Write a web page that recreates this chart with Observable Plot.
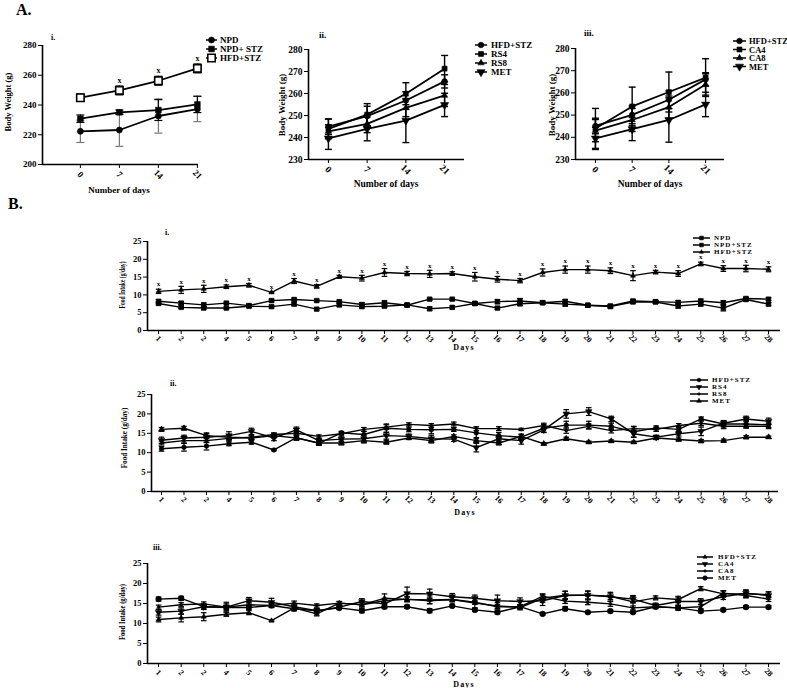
<!DOCTYPE html>
<html><head><meta charset="utf-8">
<script src="https://cdn.jsdelivr.net/npm/d3@7"></script>
<script src="https://cdn.jsdelivr.net/npm/@observablehq/plot@0.6"></script>
<style>
html,body{margin:0;padding:0;background:#fff;}
#fig{position:relative;width:787px;height:688px;overflow:hidden;background:#fff;}
</style></head><body><div id="fig"></div>
<script>
// ---------- DATA ----------
const weekDays = [0, 7, 14, 21];
const weekLabels = ["0", "7", "14", "21"];
// A.i body weight
const npdBW = [222.3, 223.2, 232.6, 237.3];
const npdBWErr = [7.5, 11, 11.5, 8.5];
const npdStzBW = [230.8, 235.1, 236.6, 240.4];
const npdStzBWErr = [2.5, 1.5, 7, 5.5];
const hfdBW = [244.9, 249.8, 256.3, 264.6];
const hfdBWErr = [2.5, 3, 3, 3];
const sigDaysA = [7, 14, 21];
// A.ii
const hfdBW2 = [244.9, 249.7, 256.8, 265.5];
const hfdBW2Err = [3.5, 4.5, 4, 3];
const rs4BW = [243.9, 250.4, 259.9, 271.3];
const rs4BWErr = [4.5, 5, 5, 6];
const rs8BW = [242.8, 246.2, 253.5, 259.1];
const rs8BWErr = [3, 4, 4, 5];
const metBW2 = [239.6, 243.9, 247.7, 254.8];
const metBW2Err = [5, 5.4, 10, 5.3];
// A.iii
const hfdBW3 = [245.1, 250.1, 256.9, 266.1];
const hfdBW3Err = [3.5, 4, 4, 3];
const ca4BW = [244.0, 253.9, 260.4, 266.9];
const ca4BWErr = [9, 8.7, 9, 8.5];
const ca8BW = [243.0, 247.8, 253.6, 263.8];
const ca8BWErr = [5, 5.2, 5, 4.8];
const metBW3 = [239.5, 243.7, 247.8, 254.8];
const metBW3Err = [5, 5.2, 10, 5.5];

// B food intake
const foodDays = [1,2,3,4,5,6,7,8,9,10,11,12,13,14,15,16,17,18,19,20,21,22,23,24,25,26,27,28];
const dayLabels = ["1","2","2","4","5","6","7","8","9","10","11","12","13","14","15","16","17","18","19","20","21","22","23","24","25","26","27","28"];
// B.i
const npdFood = [7.6, 6.5, 6.3, 6.3, 6.8, 6.7, 7.4, 6.0, 7.2, 6.7, 6.8, 7.2, 6.1, 6.5, 7.6, 6.3, 7.5, 7.8, 7.4, 7.1, 6.7, 8.0, 8.0, 6.9, 7.4, 6.3, 8.7, 7.4];
const npdFoodErr = [0.4, 0.3, 0.4, 0.3, 0.3, 0.4, 0.4, 0.3, 0.5, 0.4, 0.3, 0.4, 0.5, 0.4, 0.3, 0.4, 0.5, 0.4, 0.5, 0.3, 0.4, 0.3, 0.4, 0.6, 0.5, 0.8, 0.4, 0.4];
const npdStzFood = [8.2, 7.7, 7.2, 7.7, 7.0, 8.4, 8.7, 8.4, 8.1, 7.3, 7.8, 7.1, 8.8, 8.8, 7.6, 8.1, 8.3, 7.8, 8.2, 7.1, 6.9, 8.3, 8.1, 7.9, 8.3, 7.8, 9.0, 8.8];
const npdStzFoodErr = [0.5, 0.4, 0.5, 0.3, 0.4, 0.4, 0.4, 0.3, 0.4, 0.5, 0.5, 0.4, 0.3, 0.3, 0.4, 0.6, 0.7, 0.4, 0.5, 0.4, 0.4, 0.4, 0.4, 0.5, 0.5, 0.6, 0.3, 0.4];
const hfdFood = [11.0, 11.4, 11.7, 12.3, 12.7, 10.7, 13.9, 12.4, 15.1, 14.7, 16.3, 16.0, 15.9, 16.0, 15.1, 14.4, 14.0, 16.3, 17.1, 17.1, 16.8, 15.4, 16.4, 16.0, 18.7, 17.4, 17.4, 17.2];
const hfdFoodErr = [0.6, 1.0, 1.0, 0.5, 0.5, 0.2, 0.7, 0.5, 0.4, 0.8, 1.1, 0.6, 1.0, 0.5, 1.2, 0.8, 0.6, 1.0, 1.0, 1.0, 0.8, 1.4, 0.5, 0.8, 0.5, 0.8, 0.9, 0.7];
// B.ii
const rs4Food = [13.2, 13.8, 14.0, 14.4, 15.5, 13.8, 15.9, 13.1, 13.5, 13.6, 14.4, 14.2, 13.6, 13.5, 11.3, 13.6, 13.1, 15.9, 20.0, 20.6, 18.7, 14.9, 14.0, 14.9, 15.5, 17.6, 18.7, 18.1];
const rs4FoodErr = [0.8, 0.7, 0.9, 1.0, 0.8, 0.7, 0.7, 0.5, 0.6, 0.8, 0.9, 0.6, 0.9, 0.6, 1.1, 0.6, 0.9, 0.7, 1.1, 1.0, 0.7, 0.9, 0.5, 0.6, 1.1, 0.7, 0.7, 0.8];
const rs8Food = [12.5, 13.1, 13.1, 13.7, 14.0, 14.7, 15.0, 14.2, 14.9, 16.0, 16.6, 17.3, 17.0, 17.4, 16.2, 16.2, 16.0, 17.0, 15.7, 16.8, 15.7, 16.2, 16.0, 17.0, 17.6, 16.8, 16.8, 16.8];
const rs8FoodErr = [0.5, 0.6, 0.5, 0.6, 0.5, 0.4, 0.5, 0.4, 0.4, 0.5, 0.6, 0.4, 0.5, 0.5, 0.5, 0.5, 0.3, 0.6, 0.7, 0.6, 0.6, 0.5, 0.5, 0.5, 0.6, 0.6, 0.5, 0.6];
const metFood2 = [16.0, 16.3, 14.4, 14.0, 13.8, 14.4, 13.8, 12.5, 12.5, 13.1, 12.7, 13.8, 13.1, 14.2, 13.1, 12.5, 14.2, 12.3, 13.6, 12.7, 13.0, 12.7, 13.8, 13.4, 13.0, 13.1, 14.0, 14.0];
const metFood2Err = [0.5, 0.5, 0.7, 0.6, 0.5, 0.6, 0.5, 0.6, 0.5, 0.6, 0.5, 0.4, 0.6, 0.4, 0.5, 0.5, 0.6, 0.3, 0.4, 0.3, 0.3, 0.3, 0.4, 0.4, 0.4, 0.4, 0.4, 0.3];
// B.iii
const metFood3 = [16.1, 16.3, 14.2, 14.0, 14.0, 14.5, 13.7, 13.2, 13.9, 13.2, 14.2, 14.2, 13.2, 14.4, 13.4, 12.8, 14.2, 12.4, 13.7, 12.8, 13.1, 12.8, 14.2, 13.9, 13.1, 13.4, 14.1, 14.1];
const metFood3Err = [0.5, 0.5, 0.6, 0.5, 0.5, 0.5, 0.5, 0.5, 0.4, 0.5, 0.5, 0.4, 0.5, 0.4, 0.4, 0.4, 0.5, 0.3, 0.5, 0.3, 0.4, 0.3, 0.4, 0.4, 0.4, 0.4, 0.4, 0.4];
const ca4Food = [12.8, 13.1, 14.2, 14.1, 15.7, 15.3, 14.2, 13.2, 14.1, 15.5, 14.9, 17.5, 17.4, 16.7, 16.3, 15.7, 15.5, 15.7, 17.0, 17.1, 16.7, 16.1, 14.5, 15.5, 15.5, 16.7, 17.6, 17.0];
const ca4FoodErr = [0.7, 0.8, 0.7, 0.8, 0.8, 1.0, 0.8, 0.6, 0.6, 0.7, 1.0, 1.6, 1.2, 0.8, 0.8, 1.4, 0.9, 1.2, 1.0, 1.0, 1.1, 0.9, 0.6, 0.9, 0.7, 0.7, 0.8, 0.9];
const ca8Food = [14.1, 14.7, 14.9, 14.1, 14.7, 14.5, 15.1, 14.5, 15.1, 14.7, 15.7, 16.1, 15.7, 16.0, 15.3, 14.2, 14.2, 16.8, 15.6, 15.3, 14.9, 13.9, 14.2, 13.9, 14.2, 17.6, 17.0, 16.1];
const ca8FoodErr = [0.5, 0.5, 0.5, 1.2, 0.6, 0.5, 0.5, 0.4, 0.4, 0.5, 0.6, 0.6, 0.7, 0.6, 0.5, 0.5, 0.5, 0.6, 0.6, 0.6, 0.6, 0.5, 0.5, 0.6, 0.5, 0.5, 0.6, 0.6];

// ---------- HELPERS ----------
const SERIF = "'Liberation Serif','Times New Roman',serif";
const fig = document.getElementById("fig");
const triDown = {draw(ctx, size){ const a = Math.sqrt(4*size/Math.sqrt(3)), h = Math.sqrt(3)/2*a;
  ctx.moveTo(0, 2*h/3); ctx.lineTo(a/2, -h/3); ctx.lineTo(-a/2, -h/3); ctx.closePath(); }};
const SYM = {circle: d3.symbolCircle, square: d3.symbolSquare, triangle: d3.symbolTriangle2, triDown: triDown, dot: d3.symbolCircle};
const cap = hw => ({draw(ctx){ ctx.moveTo(-hw, 0); ctx.lineTo(hw, 0); }});

function makePanel(cfg){
  const {L,T,R,B,xDomain,yDomain,xTicks,xLabels,yTicks,series,sig,capHW,ml,mr,mt,mb,lw,xdy,xfs,yfs,ew} = cfg;
  const marks = [];
  const all = [];
  for (const s of series){
    s.rows = s.x.map((x,i)=>({s:s.name, x, y:s.y[i], e:s.err[i]}));
    all.push(...s.rows);
  }
  const errStroke = d => d.s === cfg.grayErr ? "#777" : "black";
  marks.push(Plot.ruleX(all, {x:"x", y1:d=>d.y-d.e, y2:d=>d.y+d.e, stroke:errStroke, strokeWidth:ew}));
  marks.push(Plot.dot(all, {x:"x", y:d=>d.y+d.e, symbol:cap(capHW), stroke:errStroke, strokeWidth:ew, fill:"none", r:2}));
  marks.push(Plot.dot(all, {x:"x", y:d=>d.y-d.e, symbol:cap(capHW), stroke:errStroke, strokeWidth:ew, fill:"none", r:2}));
  marks.push(Plot.line(all, {x:"x", y:"y", z:"s", stroke:"black", strokeWidth:lw}));
  for (const s of series){
    marks.push(Plot.dot(s.rows, {x:"x", y:"y", symbol:SYM[s.symbol], r:s.r, fill:s.fill||"black", stroke:"black", strokeWidth:s.sw||0.6}));
  }
  if (sig){
    const rows = sig.series.rows.filter(d => sig.days.includes(d.x));
    marks.push(Plot.text(rows, {x:"x", y:d=>d.y+d.e, dy:sig.dy, text:()=>"x", fontSize:sig.fs, fontWeight:"bold"}));
  }
  marks.push(Plot.axisY({ticks:yTicks, tickSize:4, tickPadding:2, label:null, fontSize:yfs}));
  marks.push(Plot.axisX({ticks:xTicks, tickSize:4, tickFormat:()=>"", label:null}));
  marks.push(Plot.text(xTicks, {x:d=>d, y:()=>yDomain[0], text:(d,i)=>xLabels[i], rotate:45, dy:xdy, textAnchor:"middle", fontSize:xfs, fontWeight:"bold"}));
  marks.push(Plot.ruleY([yDomain[0]], {strokeWidth:1.6}));
  marks.push(Plot.ruleX([xDomain[0]], {strokeWidth:1.6}));
  const p = Plot.plot({
    width: R-L+ml+mr, height: B-T+mt+mb,
    marginLeft: ml, marginRight: mr, marginTop: mt, marginBottom: mb,
    x: {domain: xDomain}, y: {domain: yDomain},
    style: {fontFamily: SERIF, fontWeight: "bold", fontSize: "9px", background: "transparent", color: "black", overflow: "visible"},
    marks
  });
  p.style.position = "absolute"; p.style.left = (L-ml) + "px"; p.style.top = (T-mt) + "px";
  p.style.maxWidth = "none";
  fig.appendChild(p);
}

// ---------- PANELS ----------
const A1 = [
  {name:"NPD", x:weekDays, y:npdBW, err:npdBWErr, symbol:"circle", r:3},
  {name:"NPD+ STZ", x:weekDays, y:npdStzBW, err:npdStzBWErr, symbol:"square", r:3.2},
  {name:"HFD+STZ", x:weekDays, y:hfdBW, err:hfdBWErr, symbol:"square", r:4.2, fill:"white", sw:1.6}
];
makePanel({L:42,T:45,R:198,B:164, xDomain:[-6.8,21.2], yDomain:[200,280], xTicks:weekDays, xLabels:weekLabels,
  yTicks:[200,220,240,260,280], series:A1, sig:{series:A1[2], days:sigDaysA, dy:-6, fs:8}, grayErr:"NPD",
  capHW:4, ml:32, mr:8, mt:8, mb:24, lw:1.8, xdy:10, xfs:9, yfs:9, ew:1.2});

const A2 = [
  {name:"HFD+STZ", x:weekDays, y:hfdBW2, err:hfdBW2Err, symbol:"circle", r:2.8},
  {name:"RS4", x:weekDays, y:rs4BW, err:rs4BWErr, symbol:"square", r:2.8},
  {name:"RS8", x:weekDays, y:rs8BW, err:rs8BWErr, symbol:"triangle", r:3},
  {name:"MET", x:weekDays, y:metBW2, err:metBW2Err, symbol:"triDown", r:3}
];
makePanel({L:308,T:49,R:464,B:159, xDomain:[-3.6,24.6], yDomain:[230,280], xTicks:weekDays, xLabels:weekLabels,
  yTicks:[230,240,250,260,270,280], series:A2, capHW:3.5, ml:32, mr:8, mt:8, mb:24, lw:1.8, xdy:10, xfs:9.5, yfs:9.5, ew:1.4});

const A3 = [
  {name:"HFD+STZ", x:weekDays, y:hfdBW3, err:hfdBW3Err, symbol:"circle", r:2.8},
  {name:"CA4", x:weekDays, y:ca4BW, err:ca4BWErr, symbol:"square", r:2.8},
  {name:"CA8", x:weekDays, y:ca8BW, err:ca8BWErr, symbol:"triangle", r:3},
  {name:"MET", x:weekDays, y:metBW3, err:metBW3Err, symbol:"triDown", r:3}
];
makePanel({L:575,T:48,R:724,B:159, xDomain:[-3.8,24.6], yDomain:[230,280], xTicks:weekDays, xLabels:weekLabels,
  yTicks:[230,240,250,260,270,280], series:A3, capHW:3.5, ml:32, mr:8, mt:8, mb:24, lw:1.8, xdy:10, xfs:9.5, yfs:9.5, ew:1.4});

const B1 = [
  {name:"NPD", x:foodDays, y:npdFood, err:npdFoodErr, symbol:"square", r:2.6},
  {name:"NPD+STZ", x:foodDays, y:npdStzFood, err:npdStzFoodErr, symbol:"square", r:2.6},
  {name:"HFD+STZ", x:foodDays, y:hfdFood, err:hfdFoodErr, symbol:"triangle", r:2.4}
];
makePanel({L:147,T:241,R:780,B:330, xDomain:[0.51,28.53], yDomain:[0,25], xTicks:foodDays, xLabels:dayLabels,
  yTicks:[0,5,10,15,20,25], series:B1, sig:{series:B1[2], days:foodDays, dy:-5, fs:7}, capHW:2.8,
  ml:26, mr:6, mt:6, mb:20, lw:1.4, xdy:8, xfs:8, yfs:8.5, ew:1.2});

const B2 = [
  {name:"HFD+STZ", x:foodDays, y:hfdFood, err:hfdFoodErr, symbol:"circle", r:2.3},
  {name:"RS4", x:foodDays, y:rs4Food, err:rs4FoodErr, symbol:"triDown", r:2.4},
  {name:"RS8", x:foodDays, y:rs8Food, err:rs8FoodErr, symbol:"dot", r:1.5},
  {name:"MET", x:foodDays, y:metFood2, err:metFood2Err, symbol:"triangle", r:2.8}
];
makePanel({L:151,T:394,R:778,B:491, xDomain:[0.555,28.44], yDomain:[0,25], xTicks:foodDays, xLabels:dayLabels,
  yTicks:[0,5,10,15,20,25], series:B2, capHW:2.8, ml:26, mr:6, mt:6, mb:20, lw:1.4, xdy:8, xfs:8, yfs:8.5, ew:1.2});

const B3 = [
  {name:"HFD+STZ", x:foodDays, y:hfdFood, err:hfdFoodErr, symbol:"triangle", r:2.4},
  {name:"CA4", x:foodDays, y:ca4Food, err:ca4FoodErr, symbol:"triDown", r:2.4},
  {name:"CA8", x:foodDays, y:ca8Food, err:ca8FoodErr, symbol:"dot", r:1.5},
  {name:"MET", x:foodDays, y:metFood3, err:metFood3Err, symbol:"circle", r:2.8}
];
makePanel({L:147,T:563,R:780,B:663, xDomain:[0.51,28.53], yDomain:[0,25], xTicks:foodDays, xLabels:dayLabels,
  yTicks:[0,5,10,15,20,25], series:B3, capHW:2.8, ml:26, mr:6, mt:6, mb:20, lw:1.4, xdy:9, xfs:8, yfs:8.5, ew:1.2});

// ---------- ANNOTATIONS (titles, axis titles, legends) ----------
const svg = d3.select(fig).append("svg")
  .attr("width", 787).attr("height", 688)
  .style("position","absolute").style("left","0px").style("top","0px")
  .style("font-family", SERIF).style("font-weight","bold");

function txt(s, x, y, fs, opt={}){
  const t = svg.append("text").text(s)
    .attr("font-size", fs).attr("dominant-baseline","central")
    .attr("text-anchor", opt.anchor || "start")
    .attr("transform", `translate(${x},${y})` + (opt.rot ? ` rotate(${opt.rot})` : "") + (opt.sx || opt.sy ? ` scale(${opt.sx||1},${opt.sy||1})` : ""));
  if (opt.ls) t.attr("letter-spacing", opt.ls);
  return t;
}
txt("A.", 16, 9, 16);
txt("B.", 8, 203, 16);
txt("i.", 51, 37, 8);
txt("ii.", 319, 35, 9);
txt("iii.", 584, 33, 9);
txt("i.", 165, 232, 8);
txt("ii.", 170, 383, 8);
txt("iii.", 153, 547, 8);
txt("Number of days", 119, 190, 9, {anchor:"middle"});
txt("Number of days", 386, 184, 9.5, {anchor:"middle"});
txt("Number of days", 650, 184, 9.5, {anchor:"middle"});
txt("Body Weight (g)", 8, 102, 8.5, {anchor:"middle", rot:-90});
txt("Body Weight (g)", 282, 105, 9, {anchor:"middle", rot:-90});
txt("Body Weight (g)", 552, 105, 9, {anchor:"middle", rot:-90});
txt("Food Intake (g/day)", 122, 285, 9, {anchor:"middle", rot:-90, sx:0.62});
txt("Food Intake (g/day)", 124, 438, 9, {anchor:"middle", rot:-90, sx:0.8});
txt("Food Intake (g/day)", 122, 612, 9, {anchor:"middle", rot:-90, sx:0.74});
txt("Days", 464, 347, 8, {anchor:"middle", ls:1.2});
txt("Days", 465, 512, 8, {anchor:"middle", ls:1.2});
txt("Days", 464, 684, 8, {anchor:"middle", ls:1.2});

function legend(series, rows, x1, x2, tx, fs, ls, scale){
  series.forEach((s, i) => {
    const y = rows[i], mx = (x1 + x2) / 2;
    svg.append("line").attr("x1", x1).attr("x2", x2).attr("y1", y).attr("y2", y).attr("stroke","black").attr("stroke-width", 1.5);
    svg.append("path").attr("d", d3.symbol(SYM[s.symbol], Math.PI * (s.r*scale) * (s.r*scale))())
      .attr("transform", `translate(${mx},${y})`)
      .attr("fill", s.fill || "black").attr("stroke","black").attr("stroke-width", s.sw || 0.6);
    txt(s.name, tx, y, fs, {ls});
  });
}
legend(A1, [40, 49, 58], 206, 217, 220, 9, 0, 1);
legend(A2, [45, 54, 63, 72], 475, 487, 491, 9, 0, 1);
legend(A3, [41, 49.5, 58, 66.5], 733, 746, 749, 8.5, 0, 1);
legend(B1, [238, 245, 252], 693, 710, 714, 7, 1, 0.8);
legend(B2, [380, 387, 394, 401], 690, 708, 712, 7, 1, 0.8);
legend(B3, [557, 564, 571, 578], 697, 713, 718, 7, 1, 0.8);
</script></body></html>
